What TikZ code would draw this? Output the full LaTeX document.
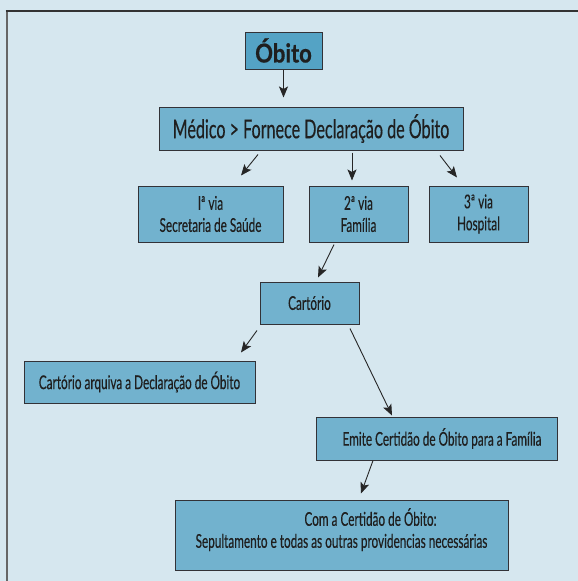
\documentclass[tikz,border=0pt]{standalone}
\usepackage{fontspec}
\setmainfont{Lato}[FakeStretch=0.62,FakeBold=0.35]
\newfontfamily\titulofonte{Lato}[FakeStretch=0.85,FakeBold=0.6]
\usepackage{tikz}
\usetikzlibrary{calc,positioning,arrows.meta}
\definecolor{fundo}{RGB}{214,231,239}
\definecolor{caixa}{RGB}{114,178,206}
\definecolor{caixaforte}{RGB}{84,163,197}
\definecolor{borda}{RGB}{50,50,55}
\tikzset{
  >={Stealth[length=11pt,width=9pt,inset=2.5pt]},
  etapa/.style={
    rectangle,
    fill=caixa,
    draw=borda, line width=1pt,
    inner sep=0pt,
    align=center,
    text=black!88,
    font=\fontsize{19}{22}\selectfont},
  titulo/.style={
    etapa,
    fill=caixaforte,
    font=\fontsize{26}{30}\titulofonte\bfseries},
  seta/.style={draw=black!85, line width=0.9pt, ->},
}

\begin{document}
\begin{tikzpicture}[x=1pt,y=-1pt]
  \useasboundingbox (0,0) rectangle (578,581);
  \fill[fundo] (0,0) rectangle (578,581);
  % moldura
  \draw[black!60, line width=2pt] (6.5,585) -- (6.5,11);
  \draw[black!80, line width=1.6pt] (5.5,11) -- (582,11);

  \node[titulo, minimum width=77pt, minimum height=37pt] (obito) at (283.5,50.5) {Óbito};
  \node[etapa, minimum width=304pt, minimum height=43pt,
    font=\fontsize{26}{30}\selectfont] (medico) at (311,128.5)
    {Médico > Fornece Declaração de Óbito};
  \node[etapa, minimum width=145pt, minimum height=56pt] (via1) at (210.5,214)
    {Iª via\\Secretaria de Saúde};
  \node[etapa, minimum width=99pt, minimum height=56pt] (via2) at (358.5,214)
    {2ª via\\Família};
  \node[etapa, minimum width=99pt, minimum height=56pt] (via3) at (478.5,214)
    {3ª via\\Hospital};
  \node[etapa, minimum width=99pt, minimum height=42pt] (cartorio) at (309.5,303)
    {Cartório};
  \node[etapa, minimum width=231pt, minimum height=42pt] (arquiva) at (139.5,382)
    {Cartório arquiva a Declaração de Óbito};
  \node[etapa, minimum width=241pt, minimum height=43pt] (emite) at (436.5,438.5)
    {\hspace*{11pt}Emite Certidão de Óbito para a Família};
  \node[etapa, minimum width=333pt, minimum height=70pt, text depth=14pt] (certidao) at (341.5,535)
    {\hspace*{58pt}Com a Certidão de Óbito:\\Sepultamento e todas as outras providencias necessárias};

  \draw[seta] (obito.south) -- ($(obito.south |- medico.north)+(0,-9)$);
  \draw[seta] ($(medico.south)+(-53,4)$) -- ($(via1.north)+(30.5,-10)$);
  \draw[seta] ($(medico.south)+(41,2)$) -- ($(via2.north)+(-6.5,-5)$);
  \draw[seta] ($(medico.south)+(129,5)$) -- ($(via3.north)+(-21.5,-8)$);
  \draw[seta] ($(via2.south)+(-24.5,2)$) -- ($(cartorio.north)+(8.5,-4)$);
  \draw[seta] ($(cartorio.south)+(-52.5,6)$) -- ($(arquiva.north)+(101.5,-8)$);
  \draw[seta] ($(cartorio.south)+(40.5,4)$) -- ($(emite.north)+(-44.5,-1)$);
  \draw[seta] ($(emite.south)+(-63.5,0)$) -- ($(certidao.north)+(19.5,-6)$);
\end{tikzpicture}
\end{document}
